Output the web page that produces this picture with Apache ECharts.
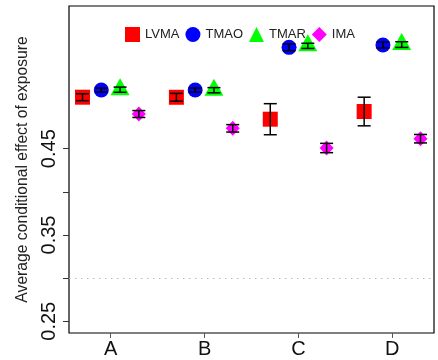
<!DOCTYPE html>
<html>
<head>
<meta charset="utf-8">
<script src="https://cdn.jsdelivr.net/npm/echarts@6/dist/echarts.min.js"></script>
<style>
  html, body { margin: 0; padding: 0; background: #fff; }
  #chart { width: 438px; height: 360px; }
</style>
</head>
<body>
<div id="chart"></div>
<script>
// Groups along the x axis
const categories = ['A', 'B', 'C', 'D'];

// Mean effect and half-width of the error bar per group
const lvmaMean = [0.5097, 0.5096, 0.4842, 0.4931];
const lvmaErr  = [0.0040, 0.0045, 0.0180, 0.0166];
const tmaoMean = [0.5180, 0.5180, 0.5675, 0.5702];
const tmaoErr  = [0.0023, 0.0023, 0.0039, 0.0035];
const tmarMean = [0.5184, 0.5178, 0.5692, 0.5707];
const tmarErr  = [0.0030, 0.0030, 0.0030, 0.0033];
const imaMean  = [0.4902, 0.4736, 0.4508, 0.4616];
const imaErr   = [0.0040, 0.0043, 0.0054, 0.0049];

// Axis ticks and the labels shown on them
const yTicks  = [0.25, 0.30, 0.35, 0.40, 0.45];
const yLabels = [0.25, 0.35, 0.45];
const refLine = 0.30;

const FONT = '"Liberation Sans", Arial, sans-serif';

const groups = [
  { name: 'LVMA', mean: lvmaMean, err: lvmaErr, color: '#FF0000', symbol: 'rect',     size: [15, 15], offset: -0.3, shift: [0, 0] },
  { name: 'TMAO', mean: tmaoMean, err: tmaoErr, color: '#0000FF', symbol: 'circle',   size: [15, 15], offset: -0.1, shift: [0, 0] },
  { name: 'TMAR', mean: tmarMean, err: tmarErr, color: '#00FF00', symbol: 'triangle', size: [19, 17], offset:  0.1, shift: [0, -3] },
  { name: 'IMA',  mean: imaMean,  err: imaErr,  color: '#FF00FF', symbol: 'diamond',  size: [14, 15], offset:  0.3, shift: [0, 0] }
];

const series = groups.map(function (g, gi) {
  const s = {
    name: g.name,
    type: 'scatter',
    symbol: g.symbol,
    symbolSize: g.size,
    symbolOffset: g.shift,
    itemStyle: { color: g.color, opacity: 1 },
    data: g.mean.map(function (m, i) { return [i + 1 + g.offset, m]; }),
    z: 2
  };
  if (gi === 0) {
    s.markLine = {
      silent: true,
      symbol: 'none',
      label: { show: false },
      lineStyle: { type: [1.5, 4.5], color: '#b8b8b8', width: 1 },
      data: [{ yAxis: refLine }]
    };
  }
  return s;
});

// Error bars: vertical whisker with caps, drawn over the markers
const errData = [];
groups.forEach(function (g) {
  g.mean.forEach(function (m, i) {
    errData.push([i + 1 + g.offset, m - g.err[i], m + g.err[i]]);
  });
});

series.push({
  type: 'custom',
  silent: true,
  z: 5,
  data: errData,
  encode: { x: 0, y: [1, 2] },
  renderItem: function (params, api) {
    const x = api.value(0);
    const lo = api.coord([x, api.value(1)]);
    const hi = api.coord([x, api.value(2)]);
    const half = 6.5;
    const style = { stroke: '#000', lineWidth: 1.5 };
    return {
      type: 'group',
      children: [
        { type: 'line', shape: { x1: lo[0], y1: lo[1], x2: hi[0], y2: hi[1] }, style: style },
        { type: 'line', shape: { x1: lo[0] - half, y1: lo[1], x2: lo[0] + half, y2: lo[1] }, style: style },
        { type: 'line', shape: { x1: hi[0] - half, y1: hi[1], x2: hi[0] + half, y2: hi[1] }, style: style }
      ]
    };
  }
});

const chart = echarts.init(document.getElementById('chart'), null, { renderer: 'canvas' });
chart.setOption({
  animation: false,
  backgroundColor: '#fff',
  grid: {
    left: 69, right: 4, top: 6, bottom: 27,
    show: true, borderColor: '#000', borderWidth: 1.2, backgroundColor: 'transparent'
  },
  legend: {
    data: groups.map(function (g) { return { name: g.name, icon: g.symbol }; }),
    left: 120, top: 22,
    itemWidth: 15, itemHeight: 15, itemGap: 6,
    textStyle: { fontFamily: FONT, fontSize: 13, color: '#222' },
    selectedMode: false
  },
  xAxis: {
    type: 'value',
    min: 0.556, max: 4.444,
    axisLine: { show: false },
    splitLine: { show: false },
    axisTick: { show: true, length: 5, customValues: [1, 2, 3, 4], lineStyle: { color: '#555', width: 1 } },
    axisLabel: {
      customValues: [1, 2, 3, 4],
      margin: 6,
      fontFamily: FONT, fontSize: 20, color: '#111',
      formatter: function (v) { return categories[Math.round(v) - 1]; }
    }
  },
  yAxis: {
    type: 'value',
    min: 0.2364, max: 0.6154,
    name: 'Average conditional effect of exposure',
    nameLocation: 'middle',
    nameGap: 33,
    nameTextStyle: { fontFamily: FONT, fontSize: 15.7, color: '#222' },
    axisLine: { show: false },
    splitLine: { show: false },
    axisTick: { show: true, length: 6, customValues: yTicks, lineStyle: { color: '#333', width: 1 } },
    axisLabel: {
      customValues: yLabels,
      rotate: 90,
      margin: 10,
      fontFamily: FONT, fontSize: 20, color: '#111',
      formatter: function (v) { return v.toFixed(2); }
    }
  },
  series: series
});
</script>
</body>
</html>
